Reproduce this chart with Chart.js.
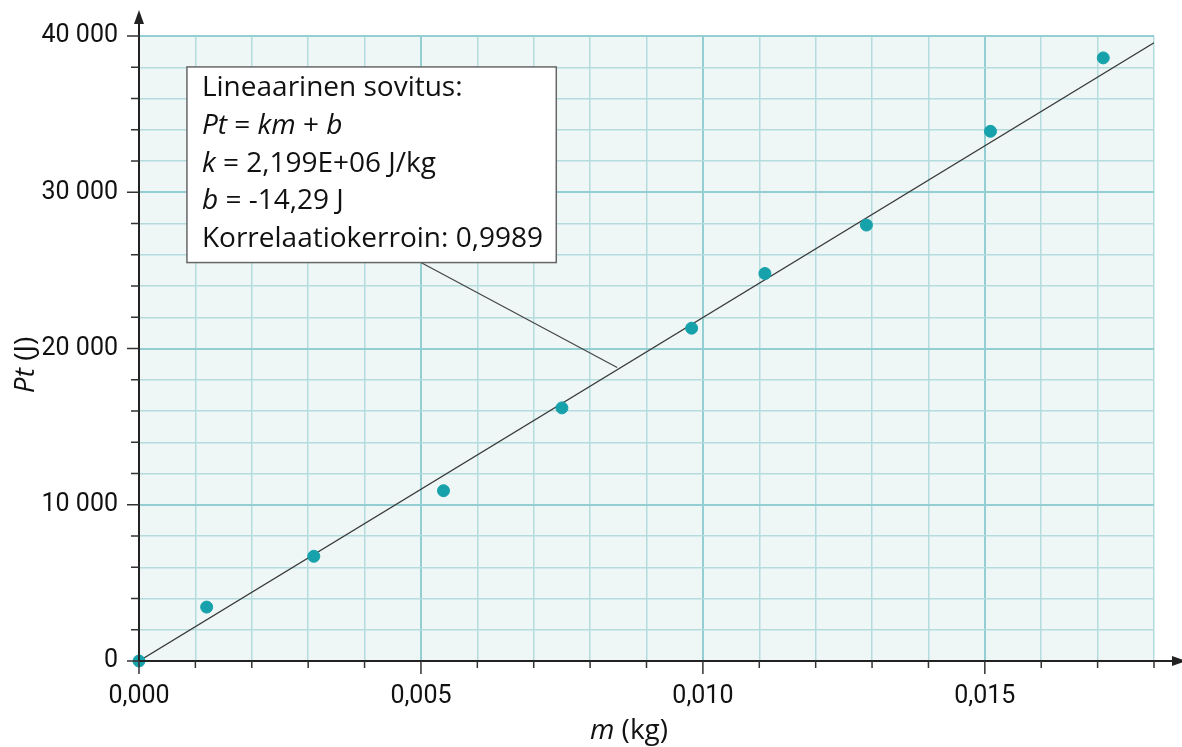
<!DOCTYPE html>
<html lang="fi">
<head>
    <meta charset="UTF-8">
    <title>Lineaarinen sovitus</title>
    <script src="https://cdn.jsdelivr.net/npm/chart.js"></script>
    <style>
        html, body { margin: 0; padding: 0; background: #fff; }
        #wrap { width: 1182px; height: 747px; }
    </style>
</head>
<body>
<div id="wrap"><canvas id="fitChart"></canvas></div>
<script>
// measured points: mass (kg) and energy Pt (J)
const massKg = [0, 0.0012, 0.0031, 0.0054, 0.0075, 0.0098, 0.0111, 0.0129, 0.0151, 0.0171];
const energyJ = [0, 3450, 6700, 10900, 16200, 21300, 24800, 27900, 33900, 38600];

// fitted line end points (Pt = km + b)
const fitX = [0, 0.018];
const fitY = [0, 39568];

const boxLines = [
    [['Lineaarinen sovitus:', false]],
    [['Pt', true], [' = ', false], ['km', true], [' + ', false], ['b', true]],
    [['k', true], [' = 2,199E+06 J/kg', false]],
    [['b', true], [' = -14,29 J', false]],
    [['Korrelaatiokerroin: 0,9989', false]]
];

const tickFont = 'Roboto, "Open Sans", sans-serif';
const textFont = '"Open Sans", Lato, sans-serif';

const decor = {
    id: 'decor',
    beforeDraw(chart) {
        const a = chart.chartArea, c = chart.ctx;
        c.save();
        c.fillStyle = '#eff6f6';
        c.fillRect(a.left, a.top, a.right - a.left, a.bottom - a.top);
        c.restore();
    },
    afterDraw(chart) {
        const c = chart.ctx, a = chart.chartArea;
        const xs = chart.scales.x, ys = chart.scales.y;
        c.save();
        c.strokeStyle = '#222';
        c.fillStyle = '#222';
        c.lineWidth = 2;

        // axes with arrows
        c.beginPath();
        c.moveTo(a.left, a.bottom);
        c.lineTo(a.left, 20);
        c.moveTo(a.left, a.bottom);
        c.lineTo(1176, a.bottom);
        c.stroke();
        c.beginPath();
        c.moveTo(a.left, 10); c.lineTo(a.left - 5, 24); c.lineTo(a.left + 5, 24); c.closePath();
        c.fill();
        c.beginPath();
        c.moveTo(1186, a.bottom); c.lineTo(1172, a.bottom - 5); c.lineTo(1172, a.bottom + 5); c.closePath();
        c.fill();

        // tick marks
        c.lineWidth = 1.5;
        c.strokeStyle = '#333';
        c.beginPath();
        for (let v = 0; v <= 40000; v += 2000) {
            const p = ys.getPixelForValue(v);
            const len = v % 10000 === 0 ? 12 : 8;
            c.moveTo(a.left - len, p); c.lineTo(a.left, p);
        }
        for (let i = 0; i <= 18; i++) {
            const p = xs.getPixelForValue(i / 1000);
            const len = i % 5 === 0 ? 13 : 7;
            c.moveTo(p, a.bottom); c.lineTo(p, a.bottom + len);
        }
        c.stroke();

        // axis titles (italic symbol + upright unit)
        c.fillStyle = '#111';
        c.textBaseline = 'alphabetic';
        c.font = 'italic 28px ' + textFont;
        const mW = c.measureText('m').width;
        c.font = '28px ' + textFont;
        const restW = c.measureText(' (kg)').width;
        let tx = 629 - (mW + restW) / 2;
        c.font = 'italic 28px ' + textFont;
        c.fillText('m', tx, 739);
        c.font = '28px ' + textFont;
        c.fillText(' (kg)', tx + mW, 739);

        c.save();
        c.translate(34, 365);
        c.rotate(-Math.PI / 2);
        c.font = 'italic 28px ' + textFont;
        const pW = c.measureText('Pt').width;
        c.font = '28px ' + textFont;
        const jW = c.measureText(' (J)').width;
        tx = -(pW + jW) / 2;
        c.font = 'italic 28px ' + textFont;
        c.fillText('Pt', tx, 0);
        c.font = '28px ' + textFont;
        c.fillText(' (J)', tx + pW, 0);
        c.restore();

        // callout pointer and box
        const bx0 = xs.getPixelForValue(0.00085), bx1 = xs.getPixelForValue(0.0074);
        const by0 = ys.getPixelForValue(38020), by1 = ys.getPixelForValue(25500);
        c.strokeStyle = '#444';
        c.lineWidth = 1.2;
        c.beginPath();
        c.moveTo(xs.getPixelForValue(0.005), by1);
        c.lineTo(xs.getPixelForValue(0.00848), ys.getPixelForValue(18790));
        c.stroke();
        c.fillStyle = '#fff';
        c.fillRect(bx0, by0, bx1 - bx0, by1 - by0);
        c.strokeStyle = '#666';
        c.lineWidth = 1.5;
        c.strokeRect(bx0, by0, bx1 - bx0, by1 - by0);

        c.fillStyle = '#111';
        c.textBaseline = 'middle';
        boxLines.forEach((parts, i) => {
            let x = bx0 + 15;
            const y = by0 + 21 + i * 37.8;
            parts.forEach(([t, it]) => {
                c.font = (it ? 'italic ' : '') + '28px ' + textFont;
                c.fillText(t, x, y);
                x += c.measureText(t).width;
            });
        });
        c.restore();
    }
};

const ctx = document.getElementById('fitChart').getContext('2d');
new Chart(ctx, {
    type: 'scatter',
    data: {
        datasets: [
            {
                label: 'mittaukset',
                data: massKg.map((m, i) => ({ x: m, y: energyJ[i] })),
                backgroundColor: '#17a2ab',
                borderColor: '#17a2ab',
                pointRadius: 6,
                clip: false,
                order: 1
            },
            {
                label: 'sovitus',
                type: 'line',
                data: fitX.map((m, i) => ({ x: m, y: fitY[i] })),
                borderColor: '#3a3a3a',
                borderWidth: 1.3,
                pointRadius: 0,
                fill: false,
                order: 2
            }
        ]
    },
    options: {
        responsive: true,
        maintainAspectRatio: false,
        animation: false,
        layout: { padding: { top: 35, right: 28, left: 0, bottom: 0 } },
        plugins: { legend: { display: false }, tooltip: { enabled: false } },
        scales: {
            x: {
                type: 'linear',
                min: 0,
                max: 0.018,
                afterFit: s => { s.height = 86; },
                border: { display: false },
                grid: {
                    drawTicks: false,
                    color: c => Math.round(c.tick.value * 1000) % 5 === 0 ? '#93cfd2' : '#b4dcdd',
                    lineWidth: c => Math.round(c.tick.value * 1000) % 5 === 0 ? 2 : 1.5
                },
                ticks: {
                    stepSize: 0.001,
                    padding: 21,
                    color: '#111',
                    font: { family: tickFont, size: 25 },
                    maxRotation: 0,
                    autoSkip: false,
                    callback: v => Math.round(v * 1000) % 5 === 0 ? v.toFixed(3).replace('.', ',') : ''
                }
            },
            y: {
                min: 0,
                max: 40000,
                afterFit: s => { s.width = 139; },
                border: { display: false },
                grid: {
                    drawTicks: false,
                    color: c => c.tick.value % 10000 === 0 ? '#93cfd2' : '#b4dcdd',
                    lineWidth: c => c.tick.value % 10000 === 0 ? 2 : 1.5
                },
                ticks: {
                    stepSize: 2000,
                    padding: 21,
                    color: '#111',
                    font: { family: tickFont, size: 25 },
                    autoSkip: false,
                    callback: v => v % 10000 === 0 ? (v === 0 ? '0' : (v / 1000) + ' 000') : ''
                }
            }
        }
    },
    plugins: [decor]
});
</script>
</body>
</html>
